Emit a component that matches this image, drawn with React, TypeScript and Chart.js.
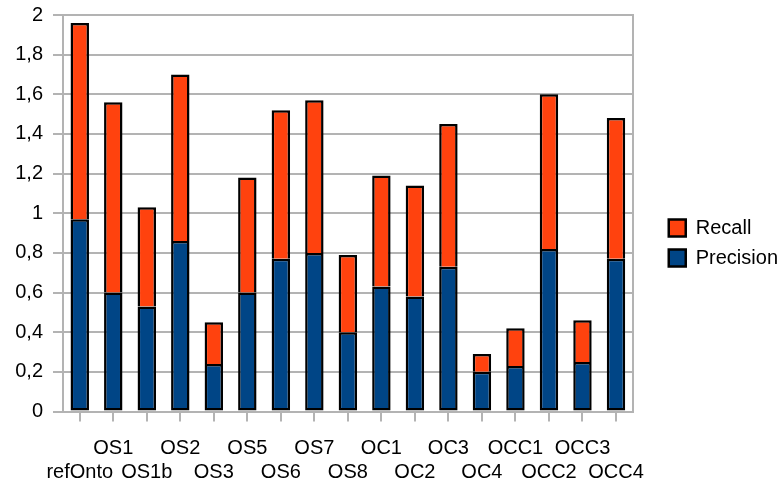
import React, { useEffect, useRef } from "react";
import { Chart, registerables } from "chart.js";

Chart.register(...registerables);

const categories = [
  "refOnto", "OS1", "OS1b", "OS2", "OS3", "OS5", "OS6", "OS7", "OS8",
  "OC1", "OC2", "OC3", "OC4", "OCC1", "OCC2", "OCC3", "OCC4",
];
const precision = [0.97, 0.6, 0.53, 0.86, 0.24, 0.6, 0.77, 0.8, 0.4, 0.63, 0.58, 0.73, 0.2, 0.23, 0.82, 0.25, 0.77];
const recall = [0.99, 0.96, 0.5, 0.84, 0.21, 0.58, 0.75, 0.77, 0.39, 0.56, 0.56, 0.72, 0.09, 0.19, 0.78, 0.21, 0.71];

const GRID = "#b3b3b3";
const FONT = { family: "'Liberation Sans', Arial, sans-serif", size: 20 };

export default function App() {
  const ref = useRef<HTMLCanvasElement | null>(null);

  useEffect(() => {
    document.body.style.margin = "0";
    const ctx = ref.current!.getContext("2d")!;
    const chart = new Chart(ctx, {
      type: "bar",
      data: {
        labels: categories,
        datasets: [
          {
            label: "Precision",
            data: precision,
            backgroundColor: "#004586",
            borderColor: "#000000",
            borderWidth: 2.5,
            borderSkipped: false,
            categoryPercentage: 1,
            barPercentage: 0.55,
          },
          {
            label: "Recall",
            data: recall,
            backgroundColor: "#ff420e",
            borderColor: "#000000",
            borderWidth: 2.5,
            borderSkipped: "start",
            categoryPercentage: 1,
            barPercentage: 0.55,
          },
        ],
      },
      options: {
        animation: false,
        responsive: false,
        layout: { padding: { left: 0, top: 0, right: -4, bottom: 0 } },
        plugins: {
          legend: {
            position: "right",
            reverse: true,
            labels: {
              boxWidth: 17,
              boxHeight: 17,
              padding: 10,
              color: "#000",
              font: FONT,
            },
          },
          tooltip: { enabled: false },
        },
        scales: {
          x: {
            stacked: true,
            offset: true,
            grid: {
              display: true,
              drawOnChartArea: false,
              drawTicks: true,
              tickLength: 10,
              offset: false,
              color: GRID,
              lineWidth: 2,
            },
            border: { display: true, color: GRID, width: 2 },
            ticks: {
              autoSkip: false,
              maxRotation: 0,
              minRotation: 0,
              padding: 14.5,
              color: "#000",
              font: { ...FONT, lineHeight: 1.2 },
              callback: (_v: any, i: number) =>
                i % 2 === 1 ? [categories[i], ""] : ["", categories[i]],
            },
            afterFit: (scale: any) => {
              scale.height = 74.5;
            },
          },
          y: {
            stacked: true,
            min: 0,
            max: 2,
            ticks: {
              stepSize: 0.2,
              padding: 10,
              color: "#000",
              font: { ...FONT, lineHeight: 0.5 },
              callback: (v: any) => String(Math.round(Number(v) * 10) / 10).replace(".", ","),
            },
            grid: { color: GRID, lineWidth: 2, tickLength: 10 },
            border: { display: true, color: GRID, width: 2 },
            afterFit: (scale: any) => {
              scale.width = 63;
            },
          },
          yR: {
            position: "right",
            display: true,
            min: 0,
            max: 2,
            ticks: { display: false },
            grid: { display: false },
            border: { display: true, color: GRID, width: 2 },
            afterFit: (scale: any) => {
              scale.width = 26;
            },
          },
        },
      },
    });
    return () => chart.destroy();
  }, []);

  return (
    <div style={{ width: 784, height: 486 }}>
      <canvas ref={ref} width={784} height={486} style={{ display: "block" }} />
    </div>
  );
}
